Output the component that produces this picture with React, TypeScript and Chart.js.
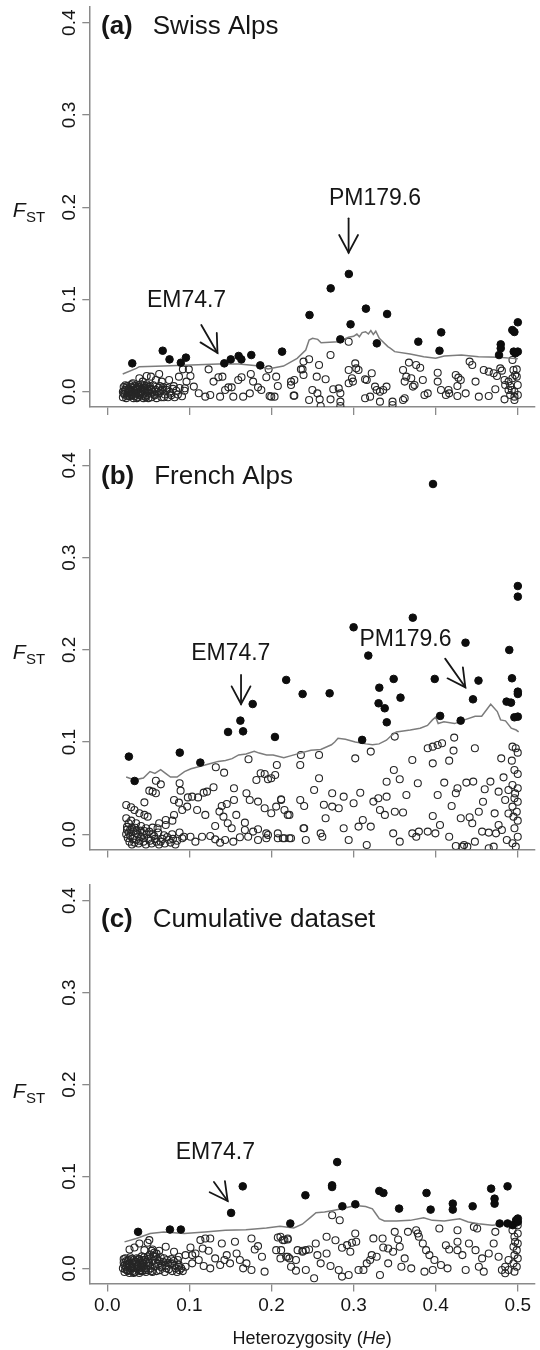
import React, { useEffect, useRef } from 'react';
import { Chart, registerables } from 'chart.js';

Chart.register(...registerables);

type P = [number, number];

const X_TICKS = [0, 0.1, 0.2, 0.3, 0.4, 0.5];
const X_TICK_LABELS = ['0.0', '0.1', '0.2', '0.3', '0.4', '0.5'];
const Y_TICKS = [0, 0.1, 0.2, 0.3, 0.4];
const Y_TICK_LABELS = ['0.0', '0.1', '0.2', '0.3', '0.4'];
const X_MIN = -0.0219;
const X_MAX = 0.5208;
const Y_MIN = -0.0165;
const Y_MAX = 0.417;

// ---------- (a) Swiss Alps ----------
const A_OUTLIERS: P[] = [
  [0.0304, 0.0307], [0.0675, 0.0444], [0.0758, 0.035], [0.0896, 0.0314], [0.0958, 0.0369],
  [0.1425, 0.0307], [0.1504, 0.035], [0.16, 0.0387], [0.1633, 0.035], [0.1754, 0.0397],
  [0.1863, 0.0285], [0.2129, 0.0434], [0.2463, 0.0831], [0.2721, 0.112], [0.2838, 0.0567],
  [0.2942, 0.1276], [0.2963, 0.073], [0.315, 0.09], [0.3283, 0.0524], [0.3408, 0.0842],
  [0.3788, 0.0542], [0.4046, 0.0444], [0.4067, 0.0643], [0.4792, 0.0513], [0.4792, 0.047],
  [0.4771, 0.0397], [0.4933, 0.0668], [0.4958, 0.0647], [0.5, 0.0752], [0.495, 0.0434],
  [0.5, 0.0434], [0.4971, 0.0416],
];

const A_QUANTILE: P[] = [
  [0.0188, 0.0192], [0.0354, 0.0253], [0.039, 0.0271], [0.0688, 0.0278], [0.1021, 0.0289],
  [0.1354, 0.03], [0.1604, 0.03], [0.1854, 0.0278], [0.1957, 0.0245], [0.2146, 0.0278],
  [0.2313, 0.0361], [0.2417, 0.0452], [0.2458, 0.056], [0.25, 0.0578], [0.2563, 0.0567],
  [0.2604, 0.0531], [0.2813, 0.0542], [0.2938, 0.0589], [0.3, 0.06], [0.304, 0.0625],
  [0.307, 0.0595], [0.3104, 0.064], [0.3146, 0.065], [0.318, 0.0625], [0.321, 0.0662],
  [0.324, 0.062], [0.327, 0.0655], [0.3313, 0.0578], [0.3417, 0.0488], [0.345, 0.047],
  [0.35, 0.0434], [0.3688, 0.0408], [0.3854, 0.0379], [0.4, 0.0362], [0.4104, 0.0387],
  [0.4313, 0.0397], [0.4521, 0.0379], [0.4771, 0.0372], [0.4938, 0.0361], [0.5, 0.0356],
];

const A_NEUTRAL: P[] = [
  [0.019, -0.006], [0.019, 0.0], [0.02, 0.005], [0.021, -0.003], [0.022, 0.002], [0.023, -0.007],
  [0.024, 0.006], [0.025, -0.001], [0.026, 0.003], [0.027, -0.005], [0.028, 0.007], [0.029, 0.0],
  [0.03, -0.004], [0.031, 0.004], [0.032, -0.007], [0.033, 0.001], [0.034, 0.006], [0.035, -0.003],
  [0.036, 0.003], [0.037, -0.006], [0.038, 0.0], [0.039, 0.005], [0.04, -0.002], [0.041, 0.008],
  [0.042, -0.005], [0.043, 0.002], [0.044, -0.007], [0.045, 0.004], [0.046, -0.001], [0.047, 0.006],
  [0.048, -0.004], [0.049, 0.001], [0.05, -0.007], [0.051, 0.005], [0.052, -0.002], [0.053, 0.003],
  [0.054, -0.006], [0.055, 0.0], [0.056, 0.007], [0.058, -0.004], [0.059, 0.002], [0.06, -0.007],
  [0.062, 0.004], [0.063, -0.002], [0.065, 0.001], [0.066, -0.006], [0.068, 0.005], [0.07, -0.003],
  [0.072, 0.002], [0.074, -0.006], [0.076, 0.0], [0.078, -0.004], [0.08, 0.003], [0.082, -0.006],
  [0.084, 0.001], [0.021, 0.001], [0.023, 0.004], [0.025, -0.004], [0.027, 0.001], [0.029, 0.005],
  [0.031, -0.002], [0.033, -0.005], [0.035, 0.002], [0.037, 0.005], [0.039, -0.004], [0.041, 0.0],
  [0.043, -0.003], [0.045, 0.007], [0.047, -0.006], [0.049, 0.003],
  [0.02, -0.002], [0.022, 0.007], [0.024, -0.005], [0.026, 0.0], [0.028, -0.003], [0.03, 0.008],
  [0.032, 0.002], [0.034, -0.002], [0.036, -0.007], [0.038, 0.007], [0.04, 0.003], [0.042, 0.0],
  [0.044, 0.004], [0.046, -0.005], [0.048, 0.008], [0.05, 0.001], [0.052, 0.006], [0.054, 0.002],
  [0.057, -0.003], [0.061, 0.0], [0.064, 0.006], [0.067, 0.002], [0.069, -0.006], [0.073, 0.004],
  [0.077, -0.002], [0.081, 0.006], [0.086, -0.003], [0.088, 0.004], [0.091, -0.005], [0.094, 0.001],
  [0.0391, 0.0145], [0.048, 0.017], [0.0632, 0.0192], [0.0664, 0.0109], [0.0753, 0.0127],
  [0.0592, 0.0127], [0.0532, 0.0163], [0.0311, 0.0091], [0.0431, 0.0109], [0.0873, 0.0163],
  [0.0921, 0.0242], [0.0993, 0.0242], [0.0965, 0.0109], [0.1013, 0.017], [0.0945, 0.0037],
  [0.1054, 0.0055], [0.1114, -0.0017], [0.1194, -0.0054], [0.1234, 0.0242], [0.1254, -0.0036],
  [0.1294, 0.0109], [0.1354, 0.0156], [0.1402, 0.0163], [0.1374, -0.0054], [0.1435, 0.0018],
  [0.1475, 0.0047], [0.1515, 0.0047], [0.1535, -0.0054], [0.1595, 0.0127], [0.1635, 0.0156],
  [0.1655, -0.0054], [0.1736, -0.0018], [0.1748, 0.0192], [0.1776, 0.0109], [0.1836, 0.0047],
  [0.1876, 0.0018], [0.1937, 0.0156], [0.1965, 0.0242], [0.1977, -0.0047], [0.1997, -0.0054],
  [0.2037, -0.0054], [0.2057, 0.0163], [0.2077, 0.0062], [0.2238, 0.0073], [0.2278, -0.0043],
  [0.2378, 0.0242], [0.2238, 0.0109], [0.2278, 0.0127], [0.227, -0.0043], [0.2358, 0.0242],
  [0.239, 0.0326], [0.2458, 0.0351], [0.239, 0.0181], [0.2498, 0.0018], [0.2551, 0.0163],
  [0.2559, -0.0018], [0.2579, 0.0289], [0.2587, -0.0083], [0.2458, -0.009], [0.2599, -0.0155],
  [0.2659, 0.0134], [0.2719, 0.0398], [0.2719, -0.0083], [0.2752, 0.0026], [0.2819, 0.0036],
  [0.2839, -0.0018], [0.2839, -0.0108], [0.2839, -0.0155], [0.294, 0.0542], [0.294, 0.0235],
  [0.298, 0.0145], [0.2992, 0.0109], [0.294, 0.0091], [0.302, 0.0307], [0.3032, 0.0253],
  [0.306, 0.0235], [0.314, 0.0134], [0.316, 0.0127], [0.3221, 0.0199], [0.314, -0.0072],
  [0.3201, -0.0054], [0.3261, 0.0055], [0.3281, 0.0018], [0.3321, 0.0], [0.3361, 0.0018],
  [0.3401, 0.0055], [0.3321, -0.0108], [0.3474, -0.0108], [0.3474, -0.0144], [0.3602, -0.009],
  [0.3622, -0.0072], [0.3602, 0.0235], [0.3622, 0.0109], [0.3642, 0.0163], [0.3674, 0.0315],
  [0.3702, 0.0145], [0.3722, 0.0055], [0.3742, 0.0073], [0.3762, 0.0289], [0.3811, 0.026],
  [0.3843, 0.0127], [0.3863, -0.0036], [0.3903, -0.0018], [0.4024, 0.0206], [0.4024, 0.0109],
  [0.4064, 0.0018], [0.4124, -0.0036], [0.4156, 0.0018], [0.4164, -0.0018], [0.4244, 0.0181],
  [0.4276, 0.0152], [0.4264, 0.0062], [0.4305, 0.0127], [0.4264, -0.0047], [0.4365, -0.0018],
  [0.4413, 0.0326], [0.4445, 0.0289], [0.4485, 0.0109], [0.4525, -0.0054], [0.4585, 0.0235],
  [0.4646, 0.0217], [0.4706, 0.0199], [0.4746, 0.017], [0.4726, 0.0026], [0.4646, -0.0047],
  [0.4786, 0.0253], [0.4806, 0.0228], [0.4838, 0.0127], [0.4887, 0.0109], [0.4846, 0.0073],
  [0.4907, 0.0062], [0.4927, 0.0018], [0.4947, 0.0235], [0.4987, 0.0242], [0.4935, 0.0145],
  [0.4987, 0.0163], [0.4999, 0.0073], [0.4838, -0.0083], [0.4907, -0.0036], [0.4959, -0.0054],
  [0.5, -0.0036], [0.4959, -0.009], [0.4935, 0.0343], [0.4967, 0.0181], [0.4887, 0.0018],
  [0.4959, 0.0],
];

// ---------- (b) French Alps ----------
const B_OUTLIERS: P[] = [
  [0.0263, 0.0842], [0.0333, 0.0578], [0.0883, 0.0885], [0.1133, 0.0777], [0.1471, 0.1109],
  [0.1621, 0.1232], [0.1654, 0.1116], [0.1771, 0.1412], [0.2042, 0.1055], [0.2179, 0.1673],
  [0.2379, 0.1521], [0.2708, 0.1528], [0.3, 0.2244], [0.3104, 0.1023], [0.3179, 0.1937],
  [0.3313, 0.1589], [0.3304, 0.142], [0.3379, 0.1366], [0.3404, 0.1214], [0.3488, 0.1684],
  [0.3571, 0.1481], [0.3721, 0.2348], [0.3967, 0.3797], [0.3988, 0.1684], [0.4054, 0.1283],
  [0.4304, 0.1232], [0.4363, 0.2077], [0.4454, 0.1463], [0.4521, 0.1666], [0.4863, 0.1438],
  [0.4896, 0.1998], [0.4917, 0.1427], [0.4929, 0.1691], [0.4958, 0.1268], [0.5, 0.2691],
  [0.5, 0.2576], [0.5, 0.1546], [0.5, 0.1521], [0.5, 0.1275],
];

const B_QUANTILE: P[] = [
  [0.023, 0.062], [0.033, 0.059], [0.044, 0.061], [0.052, 0.068], [0.058, 0.066], [0.065, 0.07],
  [0.071, 0.066], [0.077, 0.062], [0.085, 0.062], [0.094, 0.068], [0.102, 0.071], [0.11, 0.073],
  [0.119, 0.075], [0.127, 0.077], [0.135, 0.079], [0.144, 0.08], [0.152, 0.082], [0.16, 0.086],
  [0.169, 0.087], [0.179, 0.09], [0.185, 0.088], [0.194, 0.086], [0.202, 0.086], [0.215, 0.083],
  [0.223, 0.085], [0.235, 0.088], [0.248, 0.091], [0.26, 0.092], [0.273, 0.097], [0.277, 0.1],
  [0.281, 0.104], [0.29, 0.103], [0.302, 0.1], [0.315, 0.098], [0.323, 0.097], [0.331, 0.098],
  [0.34, 0.102], [0.346, 0.107], [0.352, 0.111], [0.369, 0.113], [0.381, 0.115], [0.39, 0.118],
  [0.396, 0.124], [0.4, 0.127], [0.403, 0.12], [0.41, 0.122], [0.423, 0.12], [0.435, 0.124],
  [0.448, 0.128], [0.456, 0.128], [0.467, 0.141], [0.475, 0.133], [0.479, 0.124], [0.485, 0.123],
  [0.492, 0.115], [0.498, 0.113], [0.501, 0.111],
];

const B_NEUTRAL: P[] = [
  [0.0231, 0.0318], [0.029, 0.0293], [0.0331, 0.0264], [0.0391, 0.0228], [0.0452, 0.021], [0.0492, 0.0191],
  [0.0231, 0.0173], [0.0291, 0.0148], [0.0351, 0.0119], [0.0411, 0.009], [0.0472, 0.0065],
  [0.0351, 0.001], [0.0452, 0.0036], [0.0552, 0.0072], [0.0632, 0.0119], [0.0712, 0.0155],
  [0.0813, 0.0209], [0.0913, 0.0263], [0.0512, 0.0029], [0.0612, 0.0065], [0.0712, 0.0101],
  [0.0793, 0.0148], [0.026, 0.012], [0.03, 0.007], [0.024, 0.005], [0.04, 0.004],
  [0.023, 0.0], [0.025, -0.004], [0.027, -0.008], [0.03, -0.011], [0.032, 0.003], [0.035, -0.006],
  [0.038, -0.01], [0.041, -0.003], [0.044, -0.008], [0.047, -0.011], [0.05, -0.005], [0.054, -0.01],
  [0.057, -0.002], [0.06, -0.008], [0.063, -0.011], [0.067, -0.005], [0.07, -0.01], [0.073, -0.003],
  [0.077, -0.009], [0.08, -0.005], [0.083, -0.011], [0.028, -0.002], [0.033, -0.009], [0.037, 0.0],
  [0.024, 0.008], [0.026, 0.002], [0.028, 0.005], [0.031, -0.005], [0.034, 0.007], [0.036, 0.004],
  [0.039, -0.007], [0.042, 0.002], [0.045, -0.004], [0.048, 0.0], [0.052, -0.007], [0.055, 0.0],
  [0.058, -0.005], [0.062, 0.002], [0.065, -0.008], [0.069, -0.001], [0.075, -0.006], [0.079, 0.0],
  [0.085, -0.007], [0.088, 0.002],
  [0.0592, 0.058], [0.0652, 0.0541], [0.0512, 0.0473], [0.0552, 0.0462], [0.0592, 0.0444],
  [0.0452, 0.0346], [0.0813, 0.0372], [0.0881, 0.0553], [0.0893, 0.0473], [0.0873, 0.0343],
  [0.0973, 0.03], [0.0981, 0.04], [0.1034, 0.0408], [0.1106, 0.04], [0.1174, 0.0451],
  [0.1214, 0.0462], [0.1294, 0.0509], [0.1322, 0.0726], [0.1423, 0.0668], [0.1394, 0.0307],
  [0.1455, 0.0329], [0.1366, 0.0246], [0.1415, 0.0191], [0.1467, 0.0119], [0.1515, 0.0065],
  [0.1543, 0.0499], [0.1543, 0.0372], [0.1571, 0.021], [0.1676, 0.0126], [0.172, 0.0813],
  [0.1695, 0.0444], [0.1735, 0.0372], [0.1816, 0.0589], [0.1868, 0.0661], [0.1917, 0.0654],
  [0.1957, 0.0596], [0.1997, 0.0607], [0.2045, 0.0643], [0.2065, 0.0751], [0.1836, 0.0354],
  [0.1917, 0.0282], [0.1997, 0.0228], [0.2057, 0.03], [0.2117, 0.0379], [0.2198, 0.021],
  [0.1937, 0.001], [0.1957, -0.0008], [0.2077, 0.001], [0.2158, -0.0043], [0.2238, -0.0043],
  [0.235, 0.0372], [0.235, 0.0751], [0.2398, 0.0307], [0.239, 0.0065], [0.1836, 0.0054],
  [0.1776, 0.0029], [0.1676, 0.0047], [0.1615, -0.0033], [0.1535, -0.008], [0.1435, -0.0062],
  [0.1374, -0.0091], [0.1314, -0.0055], [0.1254, -0.0018], [0.1154, -0.0026], [0.1073, -0.008],
  [0.1013, -0.0026], [0.0933, -0.0026], [0.0913, -0.0043], [0.1194, 0.021], [0.1094, 0.0264],
  [0.1314, 0.009], [0.1716, -0.0026], [0.1836, -0.0062], [0.1937, -0.0043], [0.2077, -0.0043],
  [0.2358, 0.0859], [0.2579, 0.0859], [0.2579, 0.0607], [0.2519, 0.048], [0.2739, 0.0444],
  [0.2879, 0.0408], [0.302, 0.0823], [0.3209, 0.0896], [0.3501, 0.1059], [0.3402, 0.057],
  [0.349, 0.0697], [0.3562, 0.0596], [0.3715, 0.0805], [0.3782, 0.0553], [0.3643, 0.0426],
  [0.3903, 0.0932], [0.3964, 0.095], [0.4024, 0.0968], [0.4077, 0.0986], [0.3964, 0.0769],
  [0.4024, 0.0426], [0.4104, 0.056], [0.4164, 0.0798], [0.4225, 0.1048], [0.4217, 0.0907],
  [0.4265, 0.0499], [0.4245, 0.0444], [0.4373, 0.056], [0.4477, 0.0932], [0.4457, 0.0571],
  [0.4597, 0.0488], [0.4666, 0.0571], [0.4766, 0.0462], [0.4798, 0.0823], [0.4826, 0.0617],
  [0.4886, 0.048], [0.4927, 0.0798], [0.4935, 0.095], [0.4975, 0.0932], [0.4999, 0.0885],
  [0.4959, 0.0697], [0.4999, 0.0654], [0.4935, 0.0535], [0.4999, 0.0499], [0.4959, 0.039],
  [0.4935, 0.03], [0.4987, 0.0245], [0.4947, 0.0191], [0.4999, 0.0148], [0.4959, 0.0065],
  [0.4999, -0.0026], [0.4935, -0.0098], [0.4975, -0.0134], [0.4999, 0.0352], [0.4967, 0.0443],
  [0.2118, 0.0372], [0.2158, 0.0264], [0.2218, 0.021], [0.2138, -0.0043], [0.2218, -0.0043],
  [0.2398, 0.0065], [0.2418, -0.0062], [0.2599, 0.001], [0.2619, -0.0026], [0.2659, 0.0173],
  [0.2739, 0.03], [0.2819, 0.0282], [0.2879, 0.0065], [0.294, -0.0062], [0.3, 0.0336],
  [0.306, 0.0083], [0.3112, 0.0155], [0.316, -0.0116], [0.3209, 0.0083], [0.3241, 0.0354],
  [0.3301, 0.039], [0.3321, 0.0264], [0.3381, 0.021], [0.3402, 0.0408], [0.3482, 0.001],
  [0.3502, 0.0245], [0.3562, -0.008], [0.3715, 0.001], [0.3763, -0.0026], [0.3795, 0.0029],
  [0.3903, 0.0029], [0.3964, 0.0198], [0.3996, 0.001], [0.4052, 0.0101], [0.4164, -0.0026],
  [0.4245, -0.0127], [0.4305, 0.0173], [0.4345, -0.0116], [0.4413, 0.0184], [0.4445, 0.0119],
  [0.4477, -0.008], [0.4525, 0.0245], [0.4565, 0.0029], [0.4646, 0.0018], [0.4718, 0.0227],
  [0.4734, 0.001], [0.4766, 0.0101], [0.4806, 0.0047], [0.4846, 0.0372], [0.4706, -0.0134],
  [0.4646, -0.0152], [0.4866, -0.0062], [0.4325, -0.0134], [0.4385, -0.0134], [0.2638, 0.032],
  [0.3081, 0.045], [0.3602, 0.0236], [0.4194, 0.0307], [0.4576, 0.0353], [0.4886, 0.0225],
];

// ---------- (c) Cumulative dataset ----------
const C_OUTLIERS: P[] = [
  [0.0375, 0.0397], [0.0763, 0.0422], [0.0896, 0.0422], [0.1508, 0.0603], [0.165, 0.0892],
  [0.2229, 0.0488], [0.2413, 0.0795], [0.2738, 0.0903], [0.2738, 0.0885], [0.28, 0.1156],
  [0.2863, 0.0675], [0.3021, 0.0697], [0.3313, 0.0842], [0.3363, 0.082], [0.3554, 0.065],
  [0.3888, 0.082], [0.3938, 0.0639], [0.4208, 0.0704], [0.4208, 0.0639], [0.445, 0.0675],
  [0.4675, 0.0867], [0.4717, 0.0758], [0.4717, 0.0704], [0.4779, 0.0488], [0.4875, 0.0892],
  [0.4875, 0.0488], [0.4938, 0.047], [0.4979, 0.0524], [0.5, 0.0506], [0.5, 0.0542],
];

const C_QUANTILE: P[] = [
  [0.021, 0.0288], [0.0354, 0.0324], [0.0521, 0.0378], [0.0688, 0.0396], [0.0938, 0.0378],
  [0.1188, 0.0396], [0.1438, 0.0414], [0.1688, 0.042], [0.1938, 0.044], [0.2104, 0.0457],
  [0.2271, 0.044], [0.2375, 0.048], [0.2479, 0.0558], [0.2542, 0.0605], [0.2646, 0.0612],
  [0.275, 0.063], [0.2854, 0.0648], [0.3021, 0.0684], [0.3146, 0.0673], [0.3229, 0.0648],
  [0.3271, 0.0594], [0.3313, 0.054], [0.3375, 0.0515], [0.3521, 0.0515], [0.3688, 0.0522],
  [0.3854, 0.0551], [0.3958, 0.0522], [0.4104, 0.0515], [0.4292, 0.054], [0.4396, 0.0504],
  [0.4521, 0.0486], [0.4688, 0.0468], [0.4813, 0.0479], [0.4938, 0.0468], [0.5, 0.045],
];

const C_NEUTRAL: P[] = [
  [0.019, 0.0], [0.02, 0.006], [0.021, -0.004], [0.022, 0.011], [0.023, 0.002], [0.024, -0.002],
  [0.025, 0.008], [0.026, 0.004], [0.027, -0.005], [0.028, 0.012], [0.029, 0.0], [0.03, 0.006],
  [0.031, -0.003], [0.032, 0.009], [0.033, 0.002], [0.034, -0.004], [0.035, 0.005], [0.036, 0.011],
  [0.037, -0.001], [0.038, 0.003], [0.039, -0.005], [0.04, 0.008], [0.041, 0.001], [0.042, 0.013],
  [0.043, -0.003], [0.044, 0.005], [0.045, 0.0], [0.046, 0.009], [0.047, -0.004], [0.048, 0.003],
  [0.049, 0.012], [0.05, -0.002], [0.051, 0.006], [0.052, 0.015], [0.053, 0.0], [0.054, 0.019],
  [0.055, -0.004], [0.056, 0.008], [0.057, 0.017], [0.058, 0.002], [0.06, -0.003], [0.061, 0.01],
  [0.062, 0.005], [0.064, -0.002], [0.065, 0.012], [0.066, 0.001], [0.068, 0.007], [0.07, -0.004],
  [0.071, 0.003], [0.073, 0.009], [0.075, -0.001], [0.077, 0.005], [0.079, -0.003], [0.081, 0.008],
  [0.083, 0.0], [0.085, -0.004], [0.087, 0.004], [0.09, 0.0], [0.092, -0.003], [0.021, 0.003],
  [0.023, 0.008], [0.025, -0.003], [0.027, 0.005], [0.029, 0.01], [0.031, 0.001], [0.033, -0.004],
  [0.035, 0.007], [0.037, 0.003], [0.039, 0.01], [0.041, -0.002], [0.043, 0.006], [0.045, 0.012],
  [0.047, 0.0],
  [0.02, 0.01], [0.022, -0.001], [0.024, 0.004], [0.026, 0.009], [0.028, -0.002], [0.03, 0.002],
  [0.032, -0.005], [0.034, 0.007], [0.036, 0.0], [0.038, 0.01], [0.04, -0.003], [0.042, 0.004],
  [0.044, 0.009], [0.046, -0.002], [0.048, 0.007], [0.05, 0.01], [0.052, 0.003], [0.054, -0.003],
  [0.056, 0.013], [0.058, 0.006], [0.06, 0.016], [0.063, 0.008], [0.067, 0.003], [0.069, 0.011],
  [0.072, 0.0], [0.074, 0.006], [0.078, 0.01], [0.082, 0.003], [0.086, 0.009], [0.088, -0.002],
  [0.0271, 0.0205], [0.0331, 0.0227], [0.0391, 0.0271], [0.0492, 0.0278], [0.0512, 0.0307],
  [0.0452, 0.0198], [0.0552, 0.0205], [0.0632, 0.0191], [0.0592, 0.0126], [0.0712, 0.0235],
  [0.0813, 0.018], [0.0873, 0.0126], [0.0953, 0.0144], [0.1013, 0.0227], [0.1034, 0.0144],
  [0.1134, 0.0307], [0.1194, 0.0325], [0.1254, 0.0325], [0.1162, 0.0216], [0.1234, 0.0191],
  [0.1114, 0.009], [0.1174, 0.0025], [0.1254, 0.0], [0.1395, 0.0271], [0.1427, 0.009],
  [0.1495, 0.0054], [0.1555, 0.0289], [0.1615, 0.009], [0.1655, 0.0], [0.1756, 0.0325],
  [0.1796, 0.0205], [0.1836, 0.0242], [0.1884, 0.0126], [0.1916, -0.0036], [0.1756, -0.0018],
  [0.2057, 0.0198], [0.2109, 0.0343], [0.2157, 0.0307], [0.2198, 0.0314], [0.2109, 0.0108],
  [0.2198, 0.0126], [0.2238, 0.0018], [0.2298, -0.0025], [0.2378, 0.0191], [0.2418, 0.0198],
  [0.1375, 0.0036], [0.1314, 0.0108], [0.0953, 0.0018], [0.1034, 0.0054], [0.0873, 0.0018],
  [0.0793, 0.0054], [0.1074, 0.0162], [0.1455, 0.0144], [0.1575, 0.0162], [0.1695, 0.0054],
  [0.2077, 0.0336], [0.2137, 0.0307], [0.2198, 0.0325], [0.2117, 0.0198], [0.2178, 0.0126],
  [0.2218, 0.0108], [0.2318, 0.0198], [0.2298, 0.009], [0.2378, 0.018], [0.2418, -0.0018],
  [0.2458, 0.0205], [0.2519, -0.0108], [0.2539, 0.0271], [0.2559, 0.0144], [0.2599, 0.0054],
  [0.2671, 0.0343], [0.2671, 0.0162], [0.2719, 0.0025], [0.2739, 0.0578], [0.2819, -0.0018],
  [0.2831, 0.0524], [0.2859, -0.009], [0.2859, 0.0224], [0.292, 0.0253], [0.294, -0.0072],
  [0.298, 0.0278], [0.302, 0.0379], [0.3032, 0.0289], [0.296, 0.018], [0.306, -0.0018],
  [0.312, -0.0018], [0.316, 0.0054], [0.3221, 0.0144], [0.3201, 0.009], [0.3281, 0.0126],
  [0.3321, -0.0072], [0.3353, 0.0325], [0.3361, 0.0227], [0.3421, 0.0216], [0.3481, 0.018],
  [0.3501, 0.0397], [0.3542, 0.0314], [0.3562, 0.0235], [0.3582, 0.0018], [0.3662, 0.0397],
  [0.3702, 0.0], [0.3762, 0.0415], [0.3782, 0.0379], [0.3795, 0.0343], [0.3843, 0.0271],
  [0.3883, 0.0198], [0.3923, 0.0144], [0.3863, -0.0036], [0.3964, -0.0018], [0.3984, 0.009],
  [0.4044, 0.0433], [0.4064, 0.0036], [0.4144, 0.0], [0.4164, 0.0205], [0.4265, 0.0289],
  [0.4265, 0.0415], [0.4265, 0.0198], [0.4325, 0.0144], [0.4365, -0.0018], [0.4405, 0.0271],
  [0.4465, 0.0451], [0.4505, 0.0433], [0.4485, 0.0198], [0.4525, 0.0018], [0.4585, -0.0036],
  [0.4646, 0.0162], [0.4706, 0.0271], [0.4726, 0.0397], [0.4766, 0.0126], [0.4806, -0.0018],
  [0.4846, 0.0018], [0.4887, 0.009], [0.4935, 0.0415], [0.4959, 0.0343], [0.4967, 0.0289],
  [0.4947, 0.0235], [0.4987, 0.0198], [0.4959, 0.0144], [0.4999, 0.0108], [0.4947, 0.0054],
  [0.4987, 0.0018], [0.4959, -0.0036], [0.4887, -0.0018], [0.4846, -0.0054], [0.4999, 0.0271],
  [0.4999, 0.0379], [0.4999, 0.0469], [0.2779, 0.0306], [0.3241, 0.0326], [0.3622, 0.0108],
  [0.4124, 0.0252], [0.4565, 0.0108], [0.3421, 0.0054],
];

type Note = { label: string; tx: number; ty: number; fx: number; fy: number; hx: number; hy: number };

const A_NOTES: Note[] = [
  { label: 'EM74.7', tx: 0.0965, ty: 0.0983, fx: 0.1145, fy: 0.0723, hx: 0.1342, hy: 0.042 },
  { label: 'PM179.6', tx: 0.326, ty: 0.2096, fx: 0.2939, fy: 0.1879, hx: 0.2939, hy: 0.1507 },
];
const B_NOTES: Note[] = [
  { label: 'EM74.7', tx: 0.1504, ty: 0.1962, fx: 0.1629, fy: 0.1727, hx: 0.1629, hy: 0.1412 },
  { label: 'PM179.6', tx: 0.3631, ty: 0.2113, fx: 0.4115, fy: 0.1904, hx: 0.4361, hy: 0.1593 },
];
const C_NOTES: Note[] = [
  { label: 'EM74.7', tx: 0.1316, ty: 0.1264, fx: 0.1299, fy: 0.0939, hx: 0.1466, hy: 0.0733 },
];

const FONT = '"Liberation Sans", Arial, Helvetica, sans-serif';
const TEXT = '#161616';
const AXIS = '#8a8a8a';

type Spec = {
  key: string;
  top: number;
  height: number;
  padTop: number;
  xAxisH: number;
  tag: string;
  title: string;
  titleBase: number;
  ylabBase: number;
  showX: boolean;
  outliers: P[];
  neutral: P[];
  quantile: P[];
  notes: Note[];
};

const PANELS: Spec[] = [
  { key: 'a', top: 0, height: 430, padTop: 7.0, xAxisH: 23.1, tag: '(a)', title: 'Swiss Alps', titleBase: 34, ylabBase: 216.7, showX: false, outliers: A_OUTLIERS, neutral: A_NEUTRAL, quantile: A_QUANTILE, notes: A_NOTES },
  { key: 'b', top: 430, height: 450, padTop: 19.6, xAxisH: 30.5, tag: '(b)', title: 'French Alps', titleBase: 54, ylabBase: 229, showX: false, outliers: B_OUTLIERS, neutral: B_NEUTRAL, quantile: B_QUANTILE, notes: B_NOTES },
  { key: 'c', top: 880, height: 470, padTop: 3.6, xAxisH: 66.5, tag: '(c)', title: 'Cumulative dataset', titleBase: 47, ylabBase: 218, showX: true, outliers: C_OUTLIERS, neutral: C_NEUTRAL, quantile: C_QUANTILE, notes: C_NOTES },
];

const toXY = (arr: P[]) => arr.map(([x, y]) => ({ x, y }));

function overlay(spec: Spec) {
  return {
    id: 'overlay_' + spec.key,
    afterDraw(chart: any) {
      const ctx: CanvasRenderingContext2D = chart.ctx;
      const xs = chart.scales.x;
      const ys = chart.scales.y;
      ctx.save();
      ctx.fillStyle = TEXT;
      ctx.strokeStyle = TEXT;

      // rotated y tick labels
      ctx.font = `19px ${FONT}`;
      ctx.textAlign = 'center';
      ctx.textBaseline = 'middle';
      Y_TICKS.forEach((v, i) => {
        ctx.save();
        ctx.translate(68.5, ys.getPixelForValue(v));
        ctx.rotate(-Math.PI / 2);
        ctx.fillText(Y_TICK_LABELS[i], 0, 1);
        ctx.restore();
      });

      // y label F_ST
      ctx.textAlign = 'left';
      ctx.textBaseline = 'alphabetic';
      ctx.font = `italic 21px ${FONT}`;
      ctx.fillText('F', 12.7, spec.ylabBase);
      const fw = ctx.measureText('F').width;
      ctx.font = `15px ${FONT}`;
      ctx.fillText('ST', 12.7 + fw + 0.5, spec.ylabBase + 5);

      // panel title
      ctx.font = `bold 26px ${FONT}`;
      ctx.fillText(spec.tag, 101, spec.titleBase);
      const tw = ctx.measureText(spec.tag).width;
      ctx.font = `26px ${FONT}`;
      ctx.fillText(spec.title, 101 + tw + 20, spec.titleBase);

      // annotations with arrows
      spec.notes.forEach((n) => {
        ctx.font = `23px ${FONT}`;
        ctx.textAlign = 'center';
        ctx.textBaseline = 'middle';
        ctx.fillText(n.label, xs.getPixelForValue(n.tx), ys.getPixelForValue(n.ty));
        const x1 = xs.getPixelForValue(n.fx);
        const y1 = ys.getPixelForValue(n.fy);
        const x2 = xs.getPixelForValue(n.hx);
        const y2 = ys.getPixelForValue(n.hy);
        ctx.lineWidth = 1.8;
        ctx.lineCap = 'round';
        ctx.beginPath();
        ctx.moveTo(x1, y1);
        ctx.lineTo(x2, y2);
        ctx.stroke();
        const ang = Math.atan2(y2 - y1, x2 - x1);
        const L = 20;
        const a = 0.49;
        ctx.beginPath();
        ctx.moveTo(x2 - L * Math.cos(ang - a), y2 - L * Math.sin(ang - a));
        ctx.lineTo(x2, y2);
        ctx.lineTo(x2 - L * Math.cos(ang + a), y2 - L * Math.sin(ang + a));
        ctx.stroke();
      });

      if (spec.showX) {
        ctx.font = `19px ${FONT}`;
        ctx.textAlign = 'center';
        ctx.textBaseline = 'middle';
        const ly = chart.chartArea.bottom + 22;
        X_TICKS.forEach((v, i) => {
          ctx.fillText(X_TICK_LABELS[i], xs.getPixelForValue(v), ly);
        });
        // x title: Heterozygosity (He)
        ctx.textAlign = 'left';
        ctx.textBaseline = 'alphabetic';
        const p1 = 'Heterozygosity (';
        const p2 = 'He';
        const p3 = ')';
        ctx.font = `18px ${FONT}`;
        const w1 = ctx.measureText(p1).width;
        const w3 = ctx.measureText(p3).width;
        ctx.font = `italic 18px ${FONT}`;
        const w2 = ctx.measureText(p2).width;
        const cx = (chart.chartArea.left + chart.chartArea.right) / 2;
        let x = cx - (w1 + w2 + w3) / 2;
        const by = chart.chartArea.bottom + 60;
        ctx.font = `18px ${FONT}`;
        ctx.fillText(p1, x, by);
        x += w1;
        ctx.font = `italic 18px ${FONT}`;
        ctx.fillText(p2, x, by);
        x += w2;
        ctx.font = `18px ${FONT}`;
        ctx.fillText(p3, x, by);
      }
      ctx.restore();
    },
  };
}

function Panel({ spec }: { spec: Spec }) {
  const ref = useRef<HTMLCanvasElement>(null);
  useEffect(() => {
    const canvas = ref.current;
    if (!canvas) return;
    const chart = new Chart(canvas, {
      type: 'scatter',
      data: {
        datasets: [
          {
            label: 'Outlier loci',
            data: toXY(spec.outliers),
            pointRadius: 3.8,
            pointBackgroundColor: '#0d0d0d',
            pointBorderColor: '#0d0d0d',
            pointBorderWidth: 1,
            showLine: false,
          },
          {
            label: 'Quantile',
            data: toXY(spec.quantile),
            showLine: true,
            pointRadius: 0,
            borderColor: '#7c7c7c',
            borderWidth: 1.5,
            fill: false,
            tension: 0,
          },
          {
            label: 'Neutral loci',
            data: toXY(spec.neutral),
            pointRadius: 3.5,
            pointBackgroundColor: 'rgba(255,255,255,0)',
            pointBorderColor: '#262626',
            pointBorderWidth: 1.1,
            showLine: false,
          },
        ] as any,
      },
      options: {
        responsive: false,
        animation: false,
        devicePixelRatio: 1,
        events: [],
        layout: { padding: { left: 0, right: 0, top: spec.padTop, bottom: 0 } },
        plugins: { legend: { display: false }, tooltip: { enabled: false } },
        scales: {
          x: {
            type: 'linear',
            min: X_MIN,
            max: X_MAX,
            afterBuildTicks: (s: any) => {
              s.ticks = X_TICKS.map((v) => ({ value: v }));
            },
            afterFit: (s: any) => {
              s.height = spec.xAxisH;
            },
            ticks: { display: false },
            grid: { drawOnChartArea: false, drawTicks: true, tickLength: 8, color: AXIS, lineWidth: 1.3 },
            border: { display: true, color: AXIS, width: 1.5 },
          },
          y: {
            type: 'linear',
            min: Y_MIN,
            max: Y_MAX,
            afterBuildTicks: (s: any) => {
              s.ticks = Y_TICKS.map((v) => ({ value: v }));
            },
            afterFit: (s: any) => {
              s.width = 89.3;
            },
            ticks: { display: false },
            grid: { drawOnChartArea: false, drawTicks: true, tickLength: 7, color: AXIS, lineWidth: 1.3 },
            border: { display: true, color: AXIS, width: 1.5 },
          },
        },
      } as any,
      plugins: [overlay(spec)],
    });
    return () => chart.destroy();
  }, [spec]);
  return (
    <canvas
      ref={ref}
      width={540}
      height={spec.height}
      style={{ position: 'absolute', left: 0, top: spec.top, width: 540, height: spec.height, display: 'block' }}
    />
  );
}

export default function App() {
  return (
    <div style={{ position: 'absolute', left: 0, top: 0, width: 540, height: 1350, background: '#ffffff', overflow: 'hidden' }}>
      {PANELS.map((p) => (
        <Panel key={p.key} spec={p} />
      ))}
    </div>
  );
}
